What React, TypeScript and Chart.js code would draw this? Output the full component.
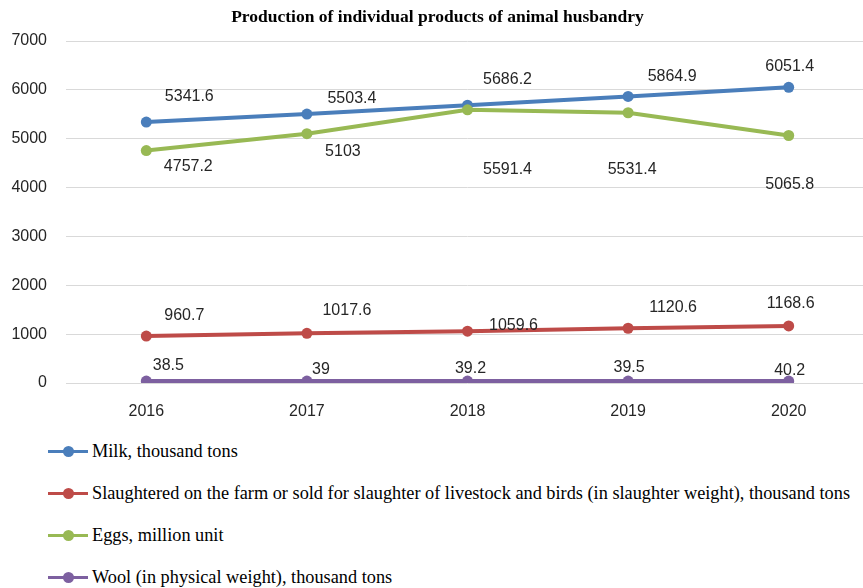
import React, { useEffect, useRef } from "react";
import { Chart, registerables } from "chart.js";

Chart.register(...registerables);

const years = ["2016", "2017", "2018", "2019", "2020"];
const milk = [5341.6, 5503.4, 5686.2, 5864.9, 6051.4];
const slaughter = [960.7, 1017.6, 1059.6, 1120.6, 1168.6];
const eggs = [4757.2, 5103, 5591.4, 5531.4, 5065.8];
const wool = [38.5, 39, 39.2, 39.5, 40.2];
const seriesNames = [
  "Milk, thousand tons",
  "Slaughtered on the farm or sold for slaughter of livestock and birds (in slaughter weight), thousand tons",
  "Eggs, million unit",
  "Wool (in physical weight), thousand tons",
];
const titleText = "Production of individual products of animal husbandry";
const yMin = 0;
const yMax = 7000;
const yStep = 1000;

// style: colours and label offsets (pixels relative to each point)
const colors = ["#4a7ebb", "#be4b48", "#98b954", "#7d60a0"];
const labelOffsets: number[][][] = [
  [[43, -25], [45, -16], [40, -26], [44, -20], [1, -21]],
  [[38, -20], [40, -23], [46, -6], [45, -21], [2, -22]],
  [[42, 16], [36, 18], [40, 60], [4, 57], [1, 49]],
  [[22, -16], [14, -12], [3, -12], [1, -13], [1, -10]],
];

const labelPlugin = {
  id: "pointLabels",
  afterDatasetsDraw(chart: any) {
    const ctx = chart.ctx;
    ctx.save();
    ctx.font = "16px 'Liberation Sans', Arial, sans-serif";
    ctx.fillStyle = "#262626";
    ctx.textAlign = "center";
    ctx.textBaseline = "middle";
    chart.data.datasets.forEach((ds: any, i: number) => {
      const meta = chart.getDatasetMeta(i);
      meta.data.forEach((pt: any, j: number) => {
        const off = labelOffsets[i][j];
        ctx.fillText(String(ds.data[j]), pt.x + off[0], pt.y + off[1]);
      });
    });
    ctx.restore();
  },
};

export default function App() {
  const ref = useRef<HTMLCanvasElement>(null);

  useEffect(() => {
    if (!ref.current) return;
    const allData = [milk, slaughter, eggs, wool];
    const chart = new Chart(ref.current, {
      type: "line",
      data: {
        labels: years,
        datasets: allData.map((d, i) => ({
          label: seriesNames[i],
          data: d,
          borderColor: colors[i],
          backgroundColor: colors[i],
          borderWidth: 4,
          pointRadius: 5.5,
          pointHoverRadius: 5.5,
          pointBorderWidth: 0,
          pointBackgroundColor: colors[i],
          tension: 0,
          order: 4 - i,
        })),
      },
      options: {
        responsive: false,
        animation: false,
        layout: { padding: { left: 6, right: 6, top: 0, bottom: 0 } },
        plugins: {
          legend: { display: false },
          tooltip: { enabled: false },
          title: {
            display: true,
            text: titleText,
            color: "#000",
            font: { family: "'Liberation Serif', 'Times New Roman', serif", size: 17.5, weight: "bold" },
            padding: { top: 7, bottom: 13 },
          },
        },
        scales: {
          x: {
            offset: true,
            grid: { display: false, drawTicks: false },
            border: { display: false },
            ticks: {
              color: "#262626",
              padding: 19,
              font: { family: "'Liberation Sans', Arial, sans-serif", size: 16 },
            },
            afterFit: (s: any) => {
              s.height = 42;
            },
          },
          y: {
            min: yMin,
            max: yMax,
            grid: { color: "#d9d9d9", lineWidth: 1, drawTicks: false },
            border: { display: false },
            ticks: {
              stepSize: yStep,
              color: "#262626",
              padding: 19,
              font: { family: "'Liberation Sans', Arial, sans-serif", size: 16 },
              callback: (v: any) => String(v),
            },
            afterFit: (s: any) => {
              s.width = 60;
            },
          },
        },
      },
      plugins: [labelPlugin],
    });
    return () => chart.destroy();
  }, []);

  const legendTops = [451, 493, 535, 577];

  return (
    <div
      style={{
        position: "fixed",
        left: 0,
        top: 0,
        width: 863,
        height: 588,
        overflow: "hidden",
        background: "#fff",
      }}
    >
      <canvas ref={ref} width={875} height={425} style={{ display: "block" }} />
      {seriesNames.map((name, i) => (
        <div
          key={name}
          style={{
            position: "absolute",
            left: 48,
            top: legendTops[i] - 12,
            height: 24,
            display: "flex",
            alignItems: "center",
            whiteSpace: "nowrap",
          }}
        >
          <div style={{ position: "relative", width: 40, height: 24, marginRight: 4 }}>
            <div
              style={{
                position: "absolute",
                left: 0,
                top: 10.5,
                width: 40,
                height: 3,
                background: colors[i],
              }}
            />
            <div
              style={{
                position: "absolute",
                left: 14.5,
                top: 6.5,
                width: 11,
                height: 11,
                borderRadius: "50%",
                background: colors[i],
              }}
            />
          </div>
          <span
            style={{
              fontFamily: "'Liberation Serif', 'Times New Roman', serif",
              fontSize: 18.3,
              color: "#000",
              lineHeight: "24px",
            }}
          >
            {name}
          </span>
        </div>
      ))}
    </div>
  );
}
